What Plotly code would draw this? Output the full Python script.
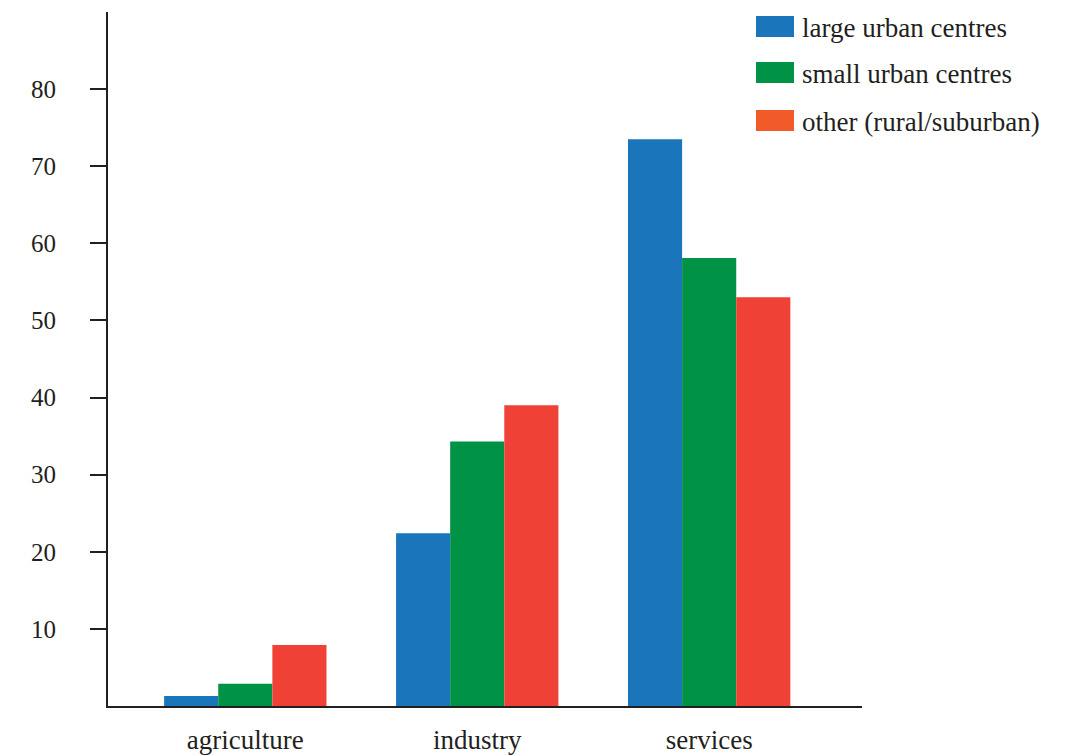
import plotly.graph_objects as go

categories = ["agriculture", "industry", "services"]
series_names = ["large urban centres", "small urban centres", "other (rural/suburban)"]
large_urban = [1.3, 22.4, 73.5]
small_urban = [2.9, 34.3, 58.1]
other_rural = [7.9, 39.0, 53.0]
y_tick_values = [10, 20, 30, 40, 50, 60, 70, 80]

bar_colors = ["#1b75bb", "#009245", "#ef4136"]
legend_colors = ["#1b75bb", "#009245", "#f15a29"]

W, H = 1081, 756
ML, MR, MT, MB = 108, 219, 12, 50
FONT = "Liberation Serif"
INK = "#231f20"

fig = go.Figure()
for name, vals, col in zip(series_names, [large_urban, small_urban, other_rural], bar_colors):
    fig.add_trace(go.Bar(x=categories, y=vals, name=name, marker=dict(color=col, line=dict(width=0)),
                         showlegend=False))

pw = W - ML - MR
ph = H - MT - MB
def px_x(px):
    return (px - ML) / pw
def px_y(py):
    return (H - MB - py) / ph

shapes = []
annotations = []
swatch_tops = [16, 62, 110]
for name, col, top in zip(series_names, legend_colors, swatch_tops):
    shapes.append(dict(type="rect", xref="paper", yref="paper",
                       x0=px_x(756), x1=px_x(794), y0=px_y(top + 21), y1=px_y(top),
                       fillcolor=col, line=dict(width=0)))
    annotations.append(dict(xref="paper", yref="paper", x=px_x(800), y=px_y(top + 12),
                            xanchor="left", yanchor="middle", text=name, showarrow=False,
                            font=dict(family=FONT, size=27, color=INK)))

fig.update_layout(
    width=W, height=H,
    margin=dict(l=ML, r=MR, t=MT, b=MB),
    paper_bgcolor="white", plot_bgcolor="white",
    barmode="group", bargap=0.3, bargroupgap=0,
    shapes=shapes, annotations=annotations,
    font=dict(family=FONT, color=INK),
    xaxis=dict(range=[-0.592, 2.659], showline=True, linewidth=2, linecolor=INK,
               ticks="", showgrid=False, zeroline=False, automargin=False,
               tickfont=dict(family=FONT, size=27, color=INK), ticklabelstandoff=9),
    yaxis=dict(range=[0, 90], tickvals=y_tick_values, showline=True, linewidth=2, linecolor=INK,
               ticks="outside", ticklen=16, tickwidth=2, tickcolor=INK,
               showgrid=False, zeroline=False, automargin=False,
               tickfont=dict(family=FONT, size=25, color=INK), ticklabelstandoff=29),
)

fig.write_html("out.html",
               post_script="document.body.style.margin='0';document.body.style.overflow='hidden';",
               config={"displayModeBar": False})
